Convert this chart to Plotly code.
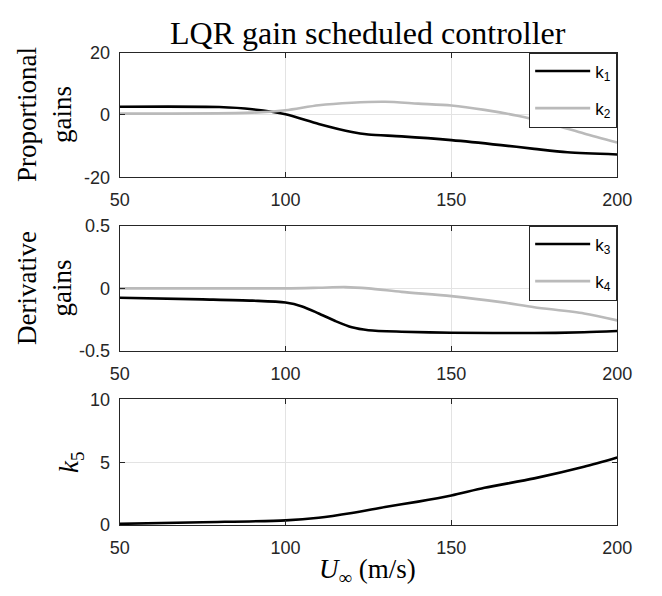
import plotly.graph_objects as go
from plotly.subplots import make_subplots

# ---- data ----
u_k1 = [50, 80, 90, 100, 110, 120, 125, 135, 150, 165, 175, 185, 200]
k1 = [2.6, 2.5, 1.8, 0.2, -2.9, -5.5, -6.3, -6.9, -8.1, -9.7, -10.9, -12.0, -12.7]
u_k2 = [50, 90, 100, 110, 120, 130, 140, 150, 160, 170, 180, 190, 200]
k2 = [0.4, 0.7, 1.5, 3.1, 3.9, 4.2, 3.6, 3.0, 1.6, -0.3, -2.9, -6.0, -8.9]

u_k3 = [50, 75, 90, 100, 105, 110, 115, 120, 125, 135, 150, 175, 190, 200]
k3 = [-0.075, -0.088, -0.098, -0.113, -0.144, -0.20, -0.26, -0.31, -0.333, -0.345, -0.353, -0.356, -0.35, -0.34]
u_k4 = [50, 100, 110, 118, 125, 135, 150, 165, 175, 190, 200]
k4 = [0.0, 0.0, 0.005, 0.01, 0.0, -0.028, -0.062, -0.11, -0.15, -0.20, -0.255]

u_k5 = [50, 75, 100, 110, 120, 130, 140, 150, 160, 175, 190, 200]
k5 = [0.1, 0.23, 0.38, 0.59, 0.97, 1.44, 1.87, 2.36, 2.97, 3.72, 4.64, 5.38]

x_ticks = [50, 100, 150, 200]
y1_ticks = [-20, 0, 20]
y1_text = ["-20", "0", "20"]
y2_ticks = [-0.5, 0, 0.5]
y2_text = ["-0.5", "0", "0.5"]
y3_ticks = [0, 5, 10]
y3_text = ["0", "5", "10"]

W, H = 662, 596
BLACK = "#000000"
GRAY = "#bababa"
AX = "#262626"
GRID = "#e3e3e3"
SANS = "Liberation Sans, Arial, sans-serif"
SERIF = "Liberation Serif, Times New Roman, serif"

fig = make_subplots(rows=3, cols=1)

def add(x, y, color, name, row, legend, group):
    fig.add_trace(go.Scatter(x=x, y=y, mode="lines", name=name,
                             line=dict(color=color, width=2.6, shape="spline", smoothing=0.8),
                             legend=legend, legendgroup=group, showlegend=legend is not None),
                  row=row, col=1)

add(u_k1, k1, BLACK, "k<sub>1</sub>", 1, "legend", "a")
add(u_k2, k2, GRAY, "k<sub>2</sub>", 1, "legend", "b")
add(u_k3, k3, BLACK, "k<sub>3</sub>", 2, "legend2", "c")
add(u_k4, k4, GRAY, "k<sub>4</sub>", 2, "legend2", "d")
fig.add_trace(go.Scatter(x=u_k5, y=k5, mode="lines", name="k5",
                         line=dict(color=BLACK, width=2.6, shape="spline", smoothing=0.8),
                         showlegend=False), row=3, col=1)

x0, x1 = 114 / W, 631 / W
panels = [(44, 173), (223, 353), (403, 533)]
yt = [(y1_ticks, y1_text), (y2_ticks, y2_text), (y3_ticks, y3_text)]

common = dict(showline=True, linecolor=AX, linewidth=1, mirror="ticks",
              ticks="inside", ticklen=5, tickcolor=AX, tickwidth=1,
              showgrid=True, gridcolor=GRID, gridwidth=1, zeroline=False,
              tickfont=dict(family=SANS, size=18, color=AX))

for i, (top, bot) in enumerate(panels):
    n = "" if i == 0 else str(i + 1)
    fig.layout["xaxis" + n].update(domain=[x0, x1], range=[50, 200], tickvals=x_ticks,
                                   ticklabelstandoff=6, **common)
    fig.layout["yaxis" + n].update(domain=[1 - bot / H, 1 - top / H],
                                   range=[yt[i][0][0], yt[i][0][-1]],
                                   tickvals=yt[i][0], ticktext=yt[i][1],
                                   ticklabelstandoff=5, **common)

leg = dict(bgcolor="white", bordercolor=AX, borderwidth=1,
           font=dict(family=SANS, size=17, color=BLACK),
           xanchor="right", yanchor="top", x=x1, itemwidth=55,
           tracegroupgap=12, traceorder="grouped")
fig.update_layout(
    legend=dict(y=1 - 44 / H, **leg),
    legend2=dict(y=1 - 223 / H, **leg),
)

ann = []
ann.append(dict(text="LQR gain scheduled controller", x=(x0 + x1) / 2, y=1 - 3 / H,
                xref="paper", yref="paper", showarrow=False, xanchor="center", yanchor="top",
                font=dict(family=SERIF, size=32, color=BLACK)))
ann.append(dict(text="Proportional<br>gains", x=36 / W, y=1 - 108 / H, textangle=-90,
                xref="paper", yref="paper", showarrow=False, xanchor="center", yanchor="middle",
                font=dict(family=SERIF, size=27, color=BLACK)))
ann.append(dict(text="Derivative<br>gains", x=36 / W, y=1 - 288 / H, textangle=-90,
                xref="paper", yref="paper", showarrow=False, xanchor="center", yanchor="middle",
                font=dict(family=SERIF, size=27, color=BLACK)))
ann.append(dict(text="<i>k</i><sub>5</sub>", x=64 / W, y=1 - 468 / H, textangle=-90,
                xref="paper", yref="paper", showarrow=False, xanchor="center", yanchor="middle",
                font=dict(family=SERIF, size=27, color=BLACK)))
ann.append(dict(text="<i>U</i><sub>∞</sub> (m/s)", x=372 / W, y=1 - 580 / H,
                xref="paper", yref="paper", showarrow=False, xanchor="center", yanchor="middle",
                font=dict(family=SERIF, size=27, color=BLACK)))

fig.update_layout(width=W, height=H, margin=dict(l=0, r=0, t=0, b=0),
                  paper_bgcolor="white", plot_bgcolor="white", annotations=ann)

fig.write_html("out.html", config={"displayModeBar": False},
               post_script="document.body.style.margin='0';document.body.style.padding='0';")
